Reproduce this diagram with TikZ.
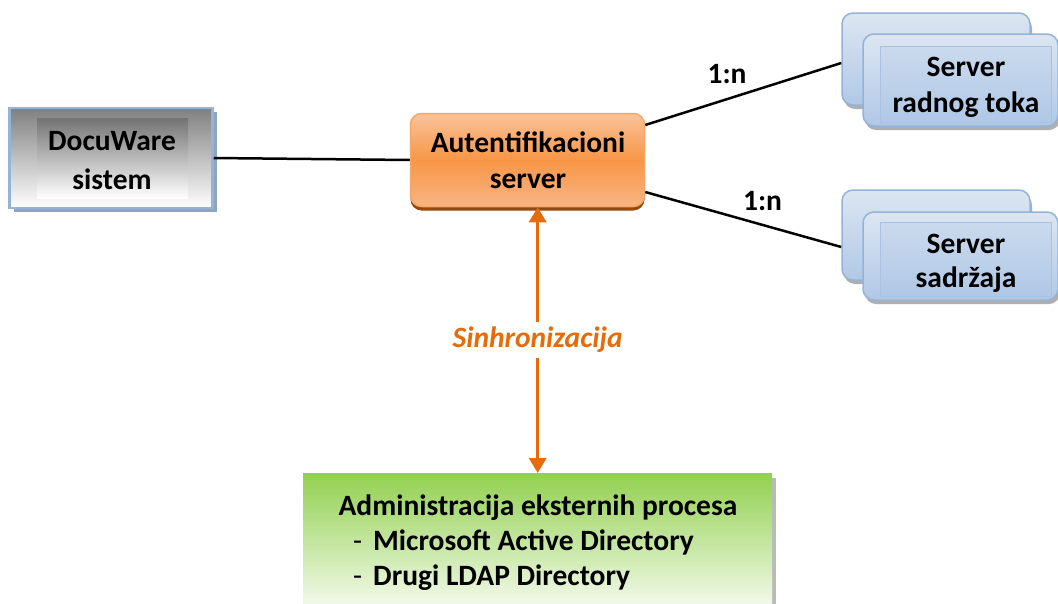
\documentclass[tikz,border=0pt]{standalone}
\usepackage{fontspec}
\setmainfont{Carlito}
\usetikzlibrary{arrows.meta}
\definecolor{orangeA}{HTML}{E46C0A}
\definecolor{orangeTop}{HTML}{FAC39A}
\definecolor{orangeMid}{HTML}{F79646}
\definecolor{orangeBot}{HTML}{F9B486}
\definecolor{orangeEdge}{HTML}{F5A765}
\definecolor{orangeShadow}{HTML}{984807}
\definecolor{blueEdge}{HTML}{95B3D7}
\definecolor{blueTop}{HTML}{DCE6F2}
\definecolor{blueBot}{HTML}{B0C8E6}
\definecolor{greenTop}{HTML}{92D050}
\definecolor{shadowGray}{HTML}{8C8C8C}
\tikzset{
  txt/.style={font=\bfseries\fontsize{29.5}{35.5}\selectfont, text=black, inner sep=0pt, anchor=base},
  dwbox/.style={draw=blueEdge, line width=2.5pt, top color=black!50, bottom color=white,
    minimum width=203pt, minimum height=100pt, inner sep=0pt,
    preaction={fill=blueEdge!70!gray, transform canvas={xshift=4pt,yshift=-4pt}}},
  authbox/.style={draw=orangeEdge, line width=1.5pt, rounded corners=11pt,
    top color=orangeTop, bottom color=orangeBot, middle color=orangeMid,
    minimum width=234pt, minimum height=93pt, inner sep=0pt,
    preaction={fill=orangeShadow, transform canvas={yshift=-4pt}}},
  srvbox/.style={draw=blueEdge, line width=1.5pt, rounded corners=11pt,
    top color=blueTop, bottom color=blueBot,
    minimum width=188pt, inner sep=0pt,
    preaction={fill=shadowGray!70, transform canvas={xshift=2pt,yshift=-4pt}}},
  srvinner/.style={draw=blueEdge!80, line width=1pt, top color=blueTop!60!blueBot, bottom color=blueBot,
    inner sep=0pt},
  conn/.style={line width=2.5pt, black},
  sync/.style={line width=3pt, orangeA, {Triangle[length=15pt,width=17pt]}-{Triangle[length=15pt,width=17pt]}},
  greenbox/.style={top color=greenTop, bottom color=white, draw=none,
    preaction={fill=shadowGray!60, transform canvas={xshift=4pt,yshift=-5pt}}},
}
\begin{document}
\begin{tikzpicture}[x=1pt,y=-1pt]
\clip (0,0) rectangle (1058,603);
\fill[white] (0,0) rectangle (1058,603);

% DocuWare
\node[dwbox] (dw) at (111,158) {};
\shade[top color=black!55, bottom color=white] (37,118) rectangle (188,198);
\node[txt] (dwt1) at (112,150) {DocuWare};
\node[txt] (dwt2) at (112,189) {sistem};

% Auth server
\node[authbox] (auth) at (527.5,160) {};
\node[txt] (autht1) at (528,152) {Autentifikacioni};
\node[txt] (autht2) at (528,188) {server};

% Server radnog toka
\node[srvbox, minimum height=92pt] (s1b) at (936,59) {};
\node[srvbox, minimum width=195pt, minimum height=92pt] (s1f) at (960.5,80) {};
\shade[srvinner] (880,46) rectangle (1051,122);
\node[txt] (s1t1) at (966,76) {Server};
\node[txt] (s1t2) at (966,112) {radnog toka};

% Server sadrzaja
\node[srvbox, minimum height=90pt] (s2b) at (936,235) {};
\node[srvbox, minimum width=195pt, minimum height=88pt] (s2f) at (960.5,256) {};
\shade[srvinner] (880,222) rectangle (1051,296);
\node[txt] (s2t1) at (966,253) {Server};
\node[txt] (s2t2) at (966,287) {sadržaja};

% Connectors
\draw[conn] (dw.east) -- (auth.west);
\draw[conn] ([yshift=35pt]auth.east) -- ([yshift=-4pt]s1b.west);
\draw[conn] ([yshift=-32pt]auth.east) -- ([yshift=-12pt]s2b.west);
\node[txt] (n1) at (727,83) {1:n};
\node[txt] (n2) at (762.5,210) {1:n};

% Green box
\node[greenbox, minimum width=469pt, minimum height=150pt, anchor=north west, inner sep=0pt] (grn) at (303,473) {};
\node[txt] (g1) at (538,515) {Administracija eksternih procesa};
\node[txt, font=\fontsize{29.5}{35.5}\selectfont, anchor=base west] (d1) at (353,550) {-};
\node[txt, anchor=base west] (g2) at (373,550) {Microsoft Active Directory};
\node[txt, font=\fontsize{29.5}{35.5}\selectfont, anchor=base west] (d2) at (353,585) {-};
\node[txt, anchor=base west] (g3) at (373,585) {Drugi LDAP Directory};

% Sync arrow
\draw[sync] (auth.south -| grn.north) -- node[fill=white, inner xsep=3pt, inner ysep=5pt, font=\bfseries\itshape\fontsize{29.5}{35}\selectfont, text=orangeA] (syn) {Sinhronizacija} (grn.north);
\end{tikzpicture}
\end{document}
